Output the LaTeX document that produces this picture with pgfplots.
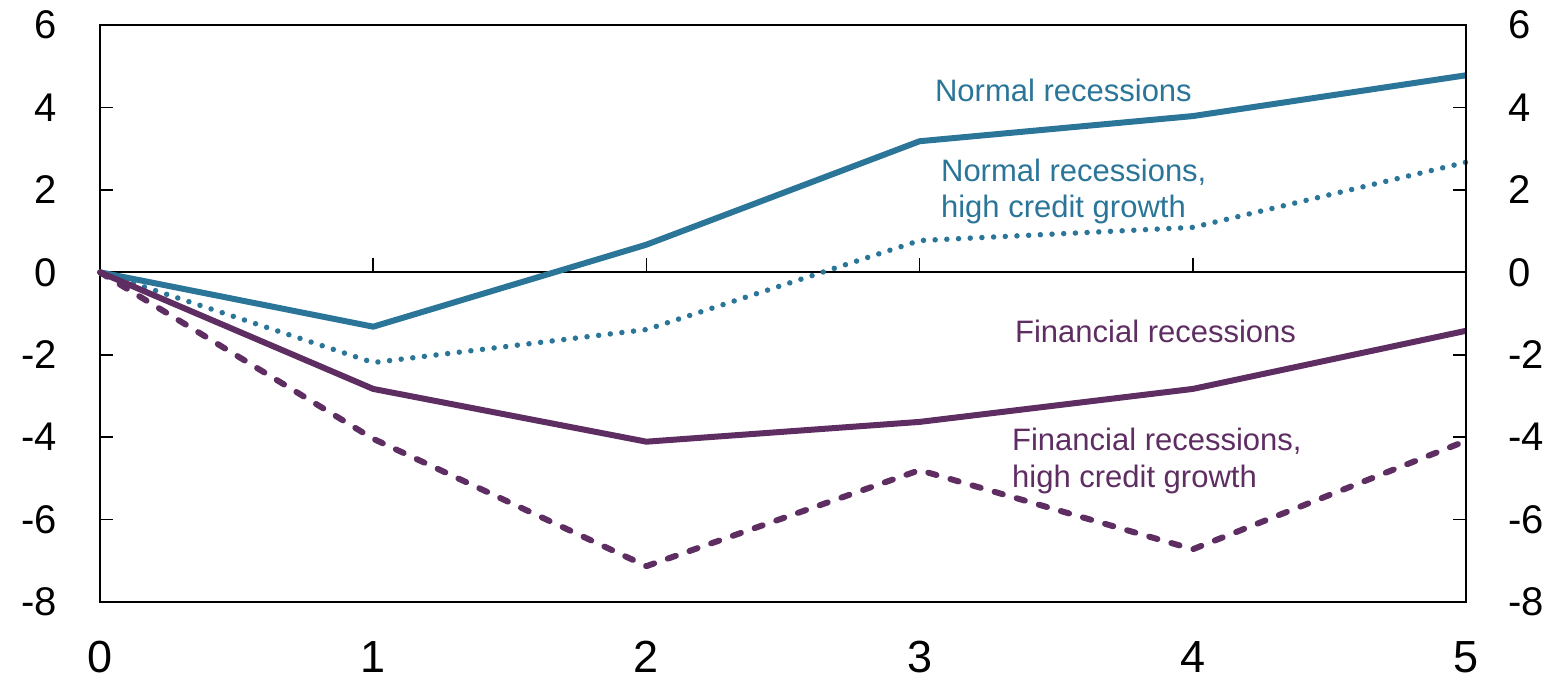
\documentclass[border=0pt]{standalone}
\usepackage{pgfplots}
\pgfplotsset{compat=1.18}
\usepackage{fontspec}
\setmainfont{Liberation Sans}
\usetikzlibrary{calc}
\definecolor{nblue}{HTML}{2B7599}
\definecolor{fpurple}{HTML}{5E2D62}
\begin{document}
\begin{tikzpicture}
\begin{axis}[
 name=main,
 scale only axis, width=1366pt, height=577pt,
 xmin=0, xmax=5, ymin=-8, ymax=6,
 xtick={0,...,5}, ytick={-8,-6,...,6},
 ytick pos=left, tick align=inside,
 x tick style={draw=none},
 major tick length=13pt,
 axis line style={line width=1.6pt},
 tick style={line width=1.6pt,black},
 xticklabel style={font=\fontsize{45}{45}\selectfont, inner sep=0pt, yshift=-39pt},
 yticklabel style={font=\fontsize{40}{40}\selectfont, inner sep=0pt, xshift=-43pt},
 /pgf/number format/assume math mode=true,
 clip=false, no markers,
]
\draw[line width=1.6pt] (axis cs:0,0) -- (axis cs:5,0);
\draw[line width=1.6pt] (axis cs:1,0) -- ++(0pt,14pt);
\draw[line width=1.6pt] (axis cs:2,0) -- ++(0pt,14pt);
\draw[line width=1.6pt] (axis cs:3,0) -- ++(0pt,14pt);
\draw[line width=1.6pt] (axis cs:4,0) -- ++(0pt,14pt);
\addplot[nblue, line width=6pt, line join=round] coordinates {(0,0)(1,-1.32)(2,0.67)(3,3.18)(4,3.79)(5,4.78)};
\addplot[nblue, line width=5.5pt, line cap=round, dash pattern=on 0pt off 11.7pt] coordinates {(0,0)(1,-2.19)(2,-1.39)(3,0.77)(4,1.09)(5,2.67)};
\addplot[fpurple, line width=6pt, line join=round] coordinates {(0,0)(1,-2.83)(2,-4.11)(3,-3.63)(4,-2.83)(5,-1.42)};
\addplot[fpurple, line width=6pt, line cap=round, line join=round, dash pattern=on 8.5pt off 14.5pt] coordinates {(0,0)(1,-4.04)(2,-7.13)(3,-4.8)(4,-6.72)(5,-4.09)};
\node[anchor=base west, text=nblue, font=\fontsize{31}{36}\selectfont, inner sep=0pt] at (axis cs:3.056,4.14) {Normal recessions};
\node[anchor=base west, text=nblue, font=\fontsize{31}{36}\selectfont, inner sep=0pt] at (axis cs:3.078,2.20) {Normal recessions,};
\node[anchor=base west, text=nblue, font=\fontsize{31}{36}\selectfont, inner sep=0pt] at (axis cs:3.078,1.33) {high credit growth};
\node[anchor=base west, text=fpurple, font=\fontsize{31}{36}\selectfont, inner sep=0pt] at (axis cs:3.349,-1.71) {Financial recessions};
\node[anchor=base west, text=fpurple, font=\fontsize{31}{36}\selectfont, inner sep=0pt] at (axis cs:3.338,-4.33) {Financial recessions,};
\node[anchor=base west, text=fpurple, font=\fontsize{31}{36}\selectfont, inner sep=0pt] at (axis cs:3.338,-5.23) {high credit growth};
\end{axis}
\begin{axis}[
 scale only axis, width=1366pt, height=577pt,
 xmin=0, xmax=5, ymin=-8, ymax=6,
 axis x line=none, axis y line*=right,
 ytick={-8,-6,...,6}, tick align=inside,
 major tick length=13pt,
 axis line style={line width=1.6pt},
 tick style={line width=1.6pt,black},
 yticklabel style={font=\fontsize{40}{40}\selectfont, inner sep=0pt, xshift=42pt},
 /pgf/number format/assume math mode=true,
]
\end{axis}
\path ($(main.south west)+(-100pt,-78pt)$) rectangle ($(main.north east)+(93pt,25pt)$);
\end{tikzpicture}
\end{document}
